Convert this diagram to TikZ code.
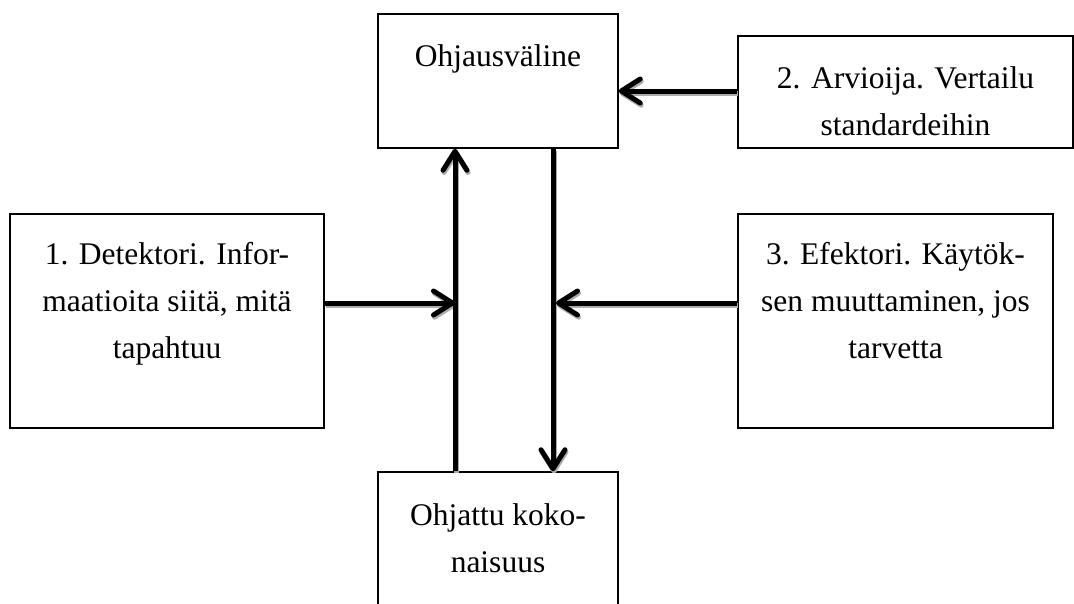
\documentclass[tikz,border=0pt]{standalone}
\usepackage{fontspec}
\setmainfont{Liberation Serif}
\usetikzlibrary{arrows.meta}
\begin{document}
\begin{tikzpicture}[x=1pt,y=-1pt,
  box/.style={draw, line width=1.5pt, inner sep=0pt, rectangle},
  txt/.style={align=center, inner sep=0pt, anchor=base, font=\fontsize{31.5}{47}\selectfont},
  arr/.style={line width=5pt, -{Straight Barb[length=19pt,width=24pt,line width=5pt,round]}},
  shd/.style={arr, draw=gray!65, transform canvas={xshift=1pt,yshift=-2.2pt}}]
\useasboundingbox (0,0) rectangle (1074,603);
\clip (0,0) rectangle (1074,603);
% boxes
\node[box, minimum width=240, minimum height=134] (ohjaus) at (498,81) {};
\node[box, minimum width=335, minimum height=112] (arvio) at (905.5,92) {};
\node[box, minimum width=314, minimum height=214] (detek) at (167,321) {};
\node[box, minimum width=315, minimum height=214] (efekt) at (895.5,321) {};
\node[box, minimum width=240, minimum height=170] (ohjattu) at (498,557) {};
% texts (anchor base = last line)
\node[txt] (t0) at (498,66) {Ohjausväline};
\node[txt] (t2) at (905.5,135) {2. Arvioija. Vertailu\\standardeihin};
\node[txt] (t1) at (167,358) {1. Detektori. Infor-\\maatioita siitä, mitä\\tapahtuu};
\node[txt] (t3) at (895.5,358) {3. Efektori. Käytök-\\sen muuttaminen, jos\\tarvetta};
\node[txt] (t4) at (498,572) {Ohjattu koko-\\naisuus};
% junction coordinates
\coordinate (upx) at (455,0);
\coordinate (dnx) at (553,0);
\coordinate (jl) at (455,303);
\coordinate (jr) at (556,303);
% shadows
\draw[shd] (arvio.west |- 0,91) -- (ohjaus.east |- 0,91);
\draw[shd] (ohjattu.north -| upx) -- (ohjaus.south -| upx);
\draw[shd] (ohjaus.south -| dnx) -- (ohjattu.north -| dnx);
\draw[shd] (detek.east |- jl) -- (jl);
\draw[shd] (efekt.west |- jr) -- (jr);
% arrows
\draw[arr] (arvio.west |- 0,91) -- (ohjaus.east |- 0,91);
\draw[arr] (ohjattu.north -| upx) -- (ohjaus.south -| upx);
\draw[arr] (ohjaus.south -| dnx) -- (ohjattu.north -| dnx);
\draw[arr] (detek.east |- jl) -- (jl);
\draw[arr] (efekt.west |- jr) -- (jr);
\end{tikzpicture}
\end{document}
